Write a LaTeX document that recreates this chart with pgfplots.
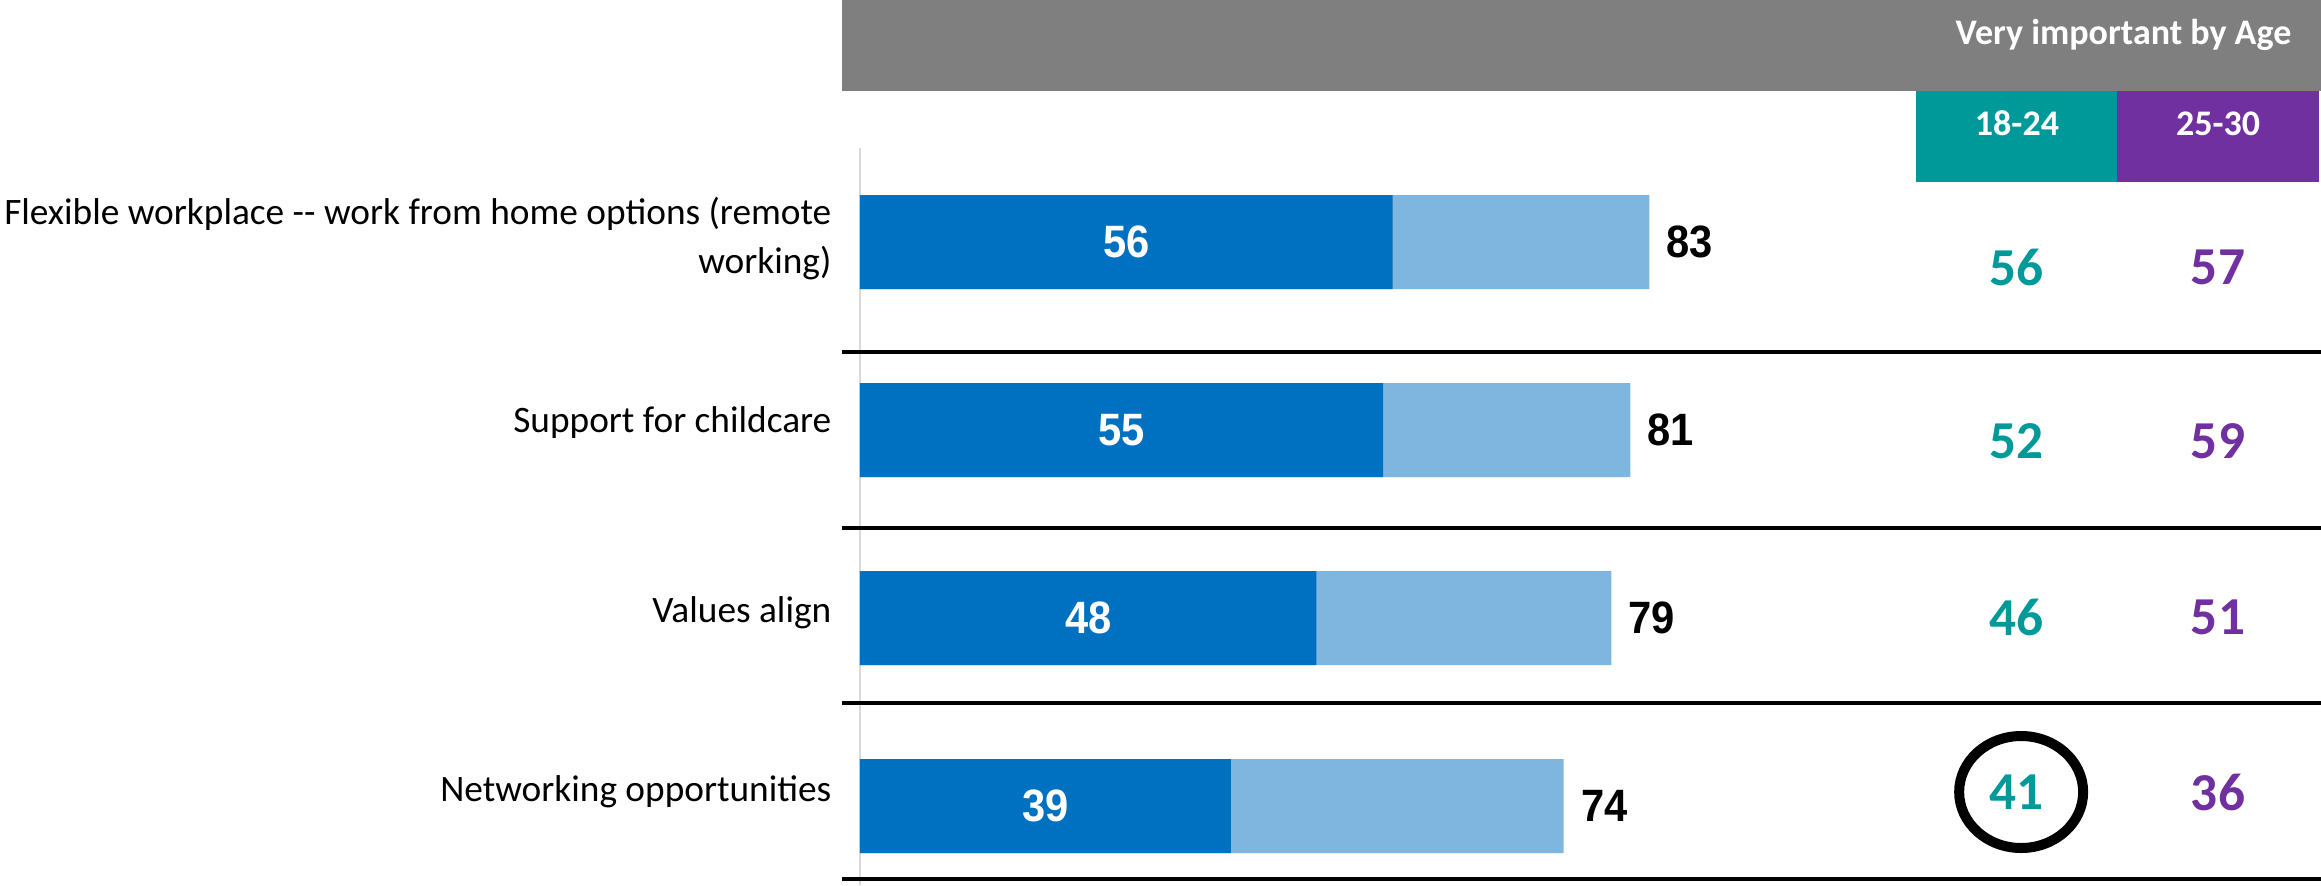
\documentclass[border=0pt]{standalone}
\usepackage{pgfplots}
\pgfplotsset{compat=1.18}
\usepackage{pgfplotstable}
\usepackage{fontspec}
\setmainfont{Carlito}
\newfontfamily\numfont{Liberation Sans}[FakeStretch=0.92]
\definecolor{hdr}{RGB}{127,127,127}
\definecolor{tealc}{RGB}{0,153,153}
\definecolor{purp}{RGB}{112,48,160}
\definecolor{dblue}{RGB}{0,112,192}
\definecolor{lblue}{RGB}{127,182,223}
\definecolor{axgray}{RGB}{217,217,217}

% y = bar centre (px from top), ytxt = centre of age numbers
\pgfplotstableread{
y dark total ytxt a b
242 56 83 267.5 56 57
430 55 81 441 52 59
618 48 79 617 46 51
806 39 74 792 41 36
}\data

\begin{document}
\begin{tikzpicture}
\begin{axis}[
  width=696.3pt, height=265.5pt, scale only axis,
  xmin=-90.43, xmax=153.63, ymin=0, ymax=885, y dir=reverse,
  hide axis, clip=false,
  /pgf/number format/assume math mode=true,
]
% header
\fill[hdr] (axis cs:-1.89,0) rectangle (axis cs:153.63,91);
\fill[tealc] (axis cs:111.04,91) rectangle (axis cs:132.18,182);
\fill[purp] (axis cs:132.18,91) rectangle (axis cs:153.42,182);
\node[anchor=base east, text=white, inner sep=0pt, font=\bfseries\fontsize{10.8}{12}\selectfont] at (axis cs:150.58,45) {Very important by Age};
\node[anchor=base, text=white, inner sep=0pt, font=\bfseries\fontsize{10.8}{12}\selectfont] at (axis cs:121.66,135) {18-24};
\node[anchor=base, text=white, inner sep=0pt, font=\bfseries\fontsize{10.8}{12}\selectfont] at (axis cs:142.8,135) {25-30};
% axis line and separators
\draw[axgray, line width=0.6pt] (axis cs:0,148) -- (axis cs:0,885);
\draw[black, line width=1pt] (axis cs:-1.89,352) -- (axis cs:153.63,352);
\draw[black, line width=1pt] (axis cs:-1.89,528) -- (axis cs:153.63,528);
\draw[black, line width=1pt] (axis cs:-1.89,703) -- (axis cs:153.63,703);
\draw[black, line width=1pt] (axis cs:-1.89,879) -- (axis cs:153.63,879);
% bars
\addplot[xbar, bar width=94, bar shift=0pt, fill=lblue, draw=none,
  nodes near coords,
  nodes near coords style={anchor=west, inner sep=0pt, xshift=5pt, text=black, font=\numfont\bfseries\fontsize{13.6}{14}\selectfont}]
  table[x=total, y=y] {\data};
\addplot[xbar, bar width=94, bar shift=0pt, fill=dblue, draw=none]
  table[x=dark, y=y] {\data};
% labels inside dark bars
\addplot[only marks, mark=none, nodes near coords, point meta=\thisrow{dark},
  nodes near coords style={anchor=center, inner sep=0pt, text=white, font=\numfont\bfseries\fontsize{13.6}{14}\selectfont}]
  table[x expr=\thisrow{dark}/2, y=y] {\data};
% age columns
\addplot[only marks, mark=none, nodes near coords, point meta=\thisrow{a},
  nodes near coords style={anchor=center, inner sep=0pt, text=tealc, font=\bfseries\fontsize{16}{16}\selectfont}]
  table[x expr=121.66, y=ytxt] {\data};
\addplot[only marks, mark=none, nodes near coords, point meta=\thisrow{b},
  nodes near coords style={anchor=center, inner sep=0pt, text=purp, font=\bfseries\fontsize{16}{16}\selectfont}]
  table[x expr=142.8, y=ytxt] {\data};
% highlight circle
\draw[black, line width=3pt] (axis cs:122.1,792) ellipse [x radius=18.6pt, y radius=16.8pt];
% category labels
\node[anchor=east, align=right, inner sep=0pt, font=\fontsize{11.2}{14.7}\selectfont] at (axis cs:-2.94,239) {Flexible workplace -{}- work from home options (remote\\working)};
\node[anchor=east, align=right, inner sep=0pt, font=\fontsize{11.2}{14.7}\selectfont] at (axis cs:-2.94,423) {Support for childcare};
\node[anchor=east, align=right, inner sep=0pt, font=\fontsize{11.2}{14.7}\selectfont] at (axis cs:-2.94,613) {Values align};
\node[anchor=east, align=right, inner sep=0pt, font=\fontsize{11.2}{14.7}\selectfont] at (axis cs:-2.94,792) {Networking opportunities};
\end{axis}
\pgfresetboundingbox
\path (current axis.south west) rectangle (current axis.north east);
\end{tikzpicture}
\end{document}
